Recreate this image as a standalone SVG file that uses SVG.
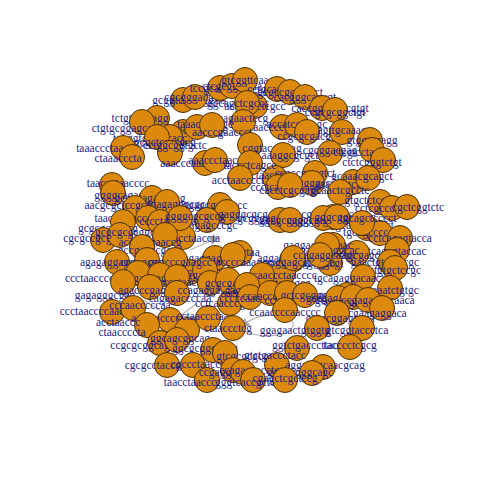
<svg xmlns="http://www.w3.org/2000/svg" width="480" height="480" viewBox="0 0 480 480">
<style>
.n circle{fill:#DC8A0E;stroke:#4A3008;stroke-width:1}
.n text{font-family:"Liberation Serif",serif;font-size:11.5px;fill:#1C1C8C;text-anchor:middle;dominant-baseline:central}
.e{fill:none;stroke:#B4B4B4;stroke-width:1.2}
</style>
<defs>
<marker id="ah" viewBox="0 0 10 10" refX="2" refY="5" markerWidth="8" markerHeight="8" orient="auto-start-reverse"><path d="M0,0 L10,5 L0,10 z" fill="#A8A8A8"/></marker>
</defs>
<rect width="480" height="480" fill="#fff"/>
<g id="edges">
<path class="e" d="M246,323 C262,310 300,314 292,328 C286,338 258,337 246,332" marker-start="url(#ah)"/>
<path class="e" d="M143,300 L186,326"/>
<path class="e" d="M196,304 L160,331"/>
<path class="e" d="M190,250 L212,240" marker-end="url(#ah)"/>
</g>
<g id="n1" class="n"><circle cx="183" cy="100" r="12.5"/><text x="183" y="100">gcggtcctgcgg</text></g>
<g id="n2" class="n"><circle cx="195" cy="97" r="12.5"/><text x="195" y="97">cgcgggacttgg</text></g>
<g id="n3" class="n"><circle cx="220" cy="88" r="12.5"/><text x="220" y="88">tccgcaaaccgc</text></g>
<g id="n4" class="n"><circle cx="232" cy="86" r="12.5"/><text x="232" y="86">ctcgcggtcgaa</text></g>
<g id="n5" class="n"><circle cx="245" cy="80" r="12.5"/><text x="245" y="80">gtcggttcaa</text></g>
<g id="n6" class="n"><circle cx="255" cy="106" r="12.5"/><text x="255" y="106">acgcagctcgcc</text></g>
<g id="n7" class="n"><circle cx="277" cy="89" r="12.5"/><text x="277" y="89">cctgcacagtag</text></g>
<g id="n8" class="n"><circle cx="290" cy="92" r="12.5"/><text x="290" y="92">gcgccgcgcgtct</text></g>
<g id="n9" class="n"><circle cx="305" cy="97" r="12.5"/><text x="305" y="97">cacgggcagcgt</text></g>
<g id="n10" class="n"><circle cx="322" cy="108" r="12.5"/><text x="330" y="108">caccgggcggcgtgt</text></g>
<g id="n11" class="n"><circle cx="335" cy="110" r="12.5"/><text x="335" y="112">ccgcgcggctgt</text></g>
<g id="n12" class="n"><circle cx="247" cy="103" r="12.5"/><text x="238" y="103">ggcagctcgccc</text></g>
<g id="n13" class="n"><circle cx="243" cy="122" r="12.5"/><text x="238" y="118">acaagaactccg</text></g>
<g id="n14" class="n"><circle cx="157" cy="118" r="12.5"/><text x="140" y="118">tctgtgctgagg</text></g>
<g id="n15" class="n"><circle cx="142" cy="122" r="12.5"/><text x="122" y="128">ctgtgcggagca</text></g>
<g id="n16" class="n"><circle cx="183" cy="132" r="12.5"/><text x="195" y="130">aaaacctaaacgc</text></g>
<g id="n17" class="n"><circle cx="197" cy="127" r="12.5"/><text x="205" y="124">taaacgcgcgc</text></g>
<g id="n18" class="n"><circle cx="212" cy="125" r="12.5"/><text x="222" y="132">aacccgaaccct</text></g>
<g id="n19" class="n"><circle cx="170" cy="137" r="12.5"/><text x="150" y="138">tgaggtgcgctcacc</text></g>
<g id="n20" class="n"><circle cx="157" cy="137" r="12.5"/><text x="165" y="142">gcgctcaccgcg</text></g>
<g id="n21" class="n"><circle cx="170" cy="153" r="12.5"/><text x="175" y="145">cctggcggtgctc</text></g>
<g id="n22" class="n"><circle cx="123" cy="148" r="12.5"/><text x="110" y="148">taaaccctaacccc</text></g>
<g id="n23" class="n"><circle cx="132" cy="157" r="12.5"/><text x="118" y="158">ctaaacccta</text></g>
<g id="n24" class="n"><circle cx="205" cy="163" r="12.5"/><text x="195" y="163">aaacccaaacccta</text></g>
<g id="n25" class="n"><circle cx="215" cy="160" r="12.5"/><text x="218" y="160">aaaccctaacca</text></g>
<g id="n26" class="n"><circle cx="250" cy="145" r="12.5"/><text x="272" y="148">cggtaccctcag</text></g>
<g id="n27" class="n"><circle cx="282" cy="127" r="12.5"/><text x="282" y="127">aaccccgaaag</text></g>
<g id="n28" class="n"><circle cx="297" cy="125" r="12.5"/><text x="297" y="124">accatcgaaagc</text></g>
<g id="n30" class="n"><circle cx="307" cy="132" r="12.5"/><text x="307" y="136">ccgcgcgacgg</text></g>
<g id="n31" class="n"><circle cx="342" cy="132" r="12.5"/><text x="345" y="130">agttgcaaagg</text></g>
<g id="n32" class="n"><circle cx="370" cy="140" r="12.5"/><text x="372" y="140">gtggctgagg</text></g>
<g id="n33" class="n"><circle cx="330" cy="153" r="12.5"/><text x="330" y="150">cgcggacgag</text></g>
<g id="n34" class="n"><circle cx="372" cy="150" r="12.5"/><text x="362" y="152">ctcgtcctagga</text></g>
<g id="n35" class="n"><circle cx="383" cy="160" r="12.5"/><text x="372" y="162">ctctcgggtctgt</text></g>
<g id="n36" class="n"><circle cx="283" cy="155" r="12.5"/><text x="290" y="155">aaaggcgcgct</text></g>
<g id="n37" class="n"><circle cx="275" cy="178" r="12.5"/><text x="265" y="175">ccctaacccc</text></g>
<g id="n38" class="n"><circle cx="315" cy="173" r="12.5"/><text x="305" y="173">ccgccggggtct</text></g>
<g id="n39" class="n"><circle cx="312" cy="183" r="12.5"/><text x="305" y="183">tccgcgggcc</text></g>
<g id="n40" class="n"><circle cx="353" cy="182" r="12.5"/><text x="345" y="184">aaaaacgcagct</text></g>
<g id="n41" class="n"><circle cx="368" cy="178" r="12.5"/><text x="362" y="176">gcaaacgcagct</text></g>
<g id="n42" class="n"><circle cx="250" cy="163" r="12.5"/><text x="250" y="165">taccctcagcc</text></g>
<g id="n43" class="n"><circle cx="240" cy="178" r="12.5"/><text x="238" y="180">acctaacccct</text></g>
<g id="n44" class="n"><circle cx="112" cy="185" r="12.5"/><text x="118" y="183">taaccctaacccc</text></g>
<g id="n45" class="n"><circle cx="340" cy="192" r="12.5"/><text x="340" y="190">gcaactcgcctc</text></g>
<g id="n46" class="n"><circle cx="380" cy="202" r="12.5"/><text x="372" y="200">gtgctctcccgt</text></g>
<g id="n47" class="n"><circle cx="392" cy="208" r="12.5"/><text x="383" y="208">cctcgccctctc</text></g>
<g id="n48" class="n"><circle cx="407" cy="207" r="12.5"/><text x="418" y="207">cgctcggtctc</text></g>
<g id="n49" class="n"><circle cx="333" cy="217" r="12.5"/><text x="330" y="214">cgggcagtgcc</text></g>
<g id="n50" class="n"><circle cx="367" cy="228" r="12.5"/><text x="362" y="225">agcactcccgcct</text></g>
<g id="n51" class="n"><circle cx="380" cy="233" r="12.5"/><text x="375" y="232">tgcagcccccctc</text></g>
<g id="n52" class="n"><circle cx="400" cy="238" r="12.5"/><text x="400" y="238">cctcagagtacca</text></g>
<g id="n53" class="n"><circle cx="397" cy="250" r="12.5"/><text x="393" y="251">cttcagagtaccac</text></g>
<g id="n54" class="n"><circle cx="357" cy="253" r="12.5"/><text x="350" y="255">aaggagcgagc</text></g>
<g id="n55" class="n"><circle cx="390" cy="262" r="12.5"/><text x="385" y="262">gaactgtgctccgc</text></g>
<g id="n56" class="n"><circle cx="395" cy="268" r="12.5"/><text x="395" y="270">ctgtgctccgc</text></g>
<g id="n57" class="n"><circle cx="363" cy="277" r="12.5"/><text x="350" y="278">tgcagaggacaaca</text></g>
<g id="n58" class="n"><circle cx="333" cy="245" r="12.5"/><text x="318" y="245">gaggagaagcaac</text></g>
<g id="n59" class="n"><circle cx="330" cy="263" r="12.5"/><text x="310" y="263">gtcagagcggcgt</text></g>
<g id="n60" class="n"><circle cx="390" cy="288" r="12.5"/><text x="385" y="290">accgaaatctgtgc</text></g>
<g id="n61" class="n"><circle cx="347" cy="295" r="12.5"/><text x="347" y="295">gccgagagaca</text></g>
<g id="n62" class="n"><circle cx="278" cy="187" r="12.5"/><text x="275" y="187">ccctcaaccc</text></g>
<g id="n63" class="n"><circle cx="290" cy="185" r="12.5"/><text x="290" y="190">cacctcgcgagc</text></g>
<g id="n64" class="n"><circle cx="280" cy="220" r="12.5"/><text x="270" y="218">gcgggagcgcgc</text></g>
<g id="n65" class="n"><circle cx="290" cy="220" r="12.5"/><text x="292" y="220">ggcgcgagggcg</text></g>
<g id="n66" class="n"><circle cx="323" cy="218" r="12.5"/><text x="318" y="220">cgggcgtgcgcc</text></g>
<g id="n67" class="n"><circle cx="337" cy="217" r="12.5"/><text x="345" y="217">gggcggctgctc</text></g>
<g id="n68" class="n"><circle cx="362" cy="223" r="12.5"/><text x="368" y="218">tgcagctcccct</text></g>
<g id="n70" class="n"><circle cx="327" cy="245" r="12.5"/><text x="322" y="250">aaggagcgaggcac</text></g>
<g id="n71" class="n"><circle cx="292" cy="260" r="12.5"/><text x="290" y="258">aggagaaggcag</text></g>
<g id="n72" class="n"><circle cx="283" cy="273" r="12.5"/><text x="290" y="283">gtcaggcg</text></g>
<g id="n73" class="n"><circle cx="240" cy="253" r="12.5"/><text x="232" y="252">agagaccctaa</text></g>
<g id="n74" class="n"><circle cx="220" cy="205" r="12.5"/><text x="215" y="205">ggagcgcgcgcc</text></g>
<g id="n75" class="n"><circle cx="227" cy="212" r="12.5"/><text x="235" y="214">cgcgagggcgcg</text></g>
<g id="n76" class="n"><circle cx="207" cy="220" r="12.5"/><text x="205" y="225">gcgagagcccgc</text></g>
<g id="n77" class="n"><circle cx="183" cy="237" r="12.5"/><text x="180" y="238">gggcagacctaaccta</text></g>
<g id="n78" class="n"><circle cx="215" cy="258" r="12.5"/><text x="215" y="258">agaggagtaggc</text></g>
<g id="n79" class="n"><circle cx="233" cy="255" r="12.5"/><text x="238" y="262">ggaccccaaagcc</text></g>
<g id="n80" class="n"><circle cx="293" cy="258" r="12.5"/><text x="300" y="262">aaggagcgaggca</text></g>
<g id="n81" class="n"><circle cx="320" cy="255" r="12.5"/><text x="325" y="255">ccagaggcaagc</text></g>
<g id="n82" class="n"><circle cx="190" cy="272" r="12.5"/><text x="190" y="272">gagggcagccct</text></g>
<g id="n83" class="n"><circle cx="205" cy="270" r="12.5"/><text x="212" y="275">ggaagaccct</text></g>
<g id="n84" class="n"><circle cx="262" cy="275" r="12.5"/><text x="282" y="275">ccaaccctaacccc</text></g>
<g id="n85" class="n"><circle cx="113" cy="193" r="12.5"/><text x="130" y="195">ggggcagagagcg</text></g>
<g id="n86" class="n"><circle cx="152" cy="198" r="12.5"/><text x="150" y="198">gcgagagagcgcg</text></g>
<g id="n87" class="n"><circle cx="167" cy="202" r="12.5"/><text x="170" y="204">ccggagagggcgc</text></g>
<g id="n88" class="n"><circle cx="135" cy="208" r="12.5"/><text x="118" y="205">aacgcgctccgcg</text></g>
<g id="n89" class="n"><circle cx="148" cy="218" r="12.5"/><text x="135" y="218">taaccctaaccctaacc</text></g>
<g id="n90" class="n"><circle cx="160" cy="222" r="12.5"/><text x="168" y="221">cccctaacccta</text></g>
<g id="n91" class="n"><circle cx="123" cy="222" r="12.5"/><text x="108" y="228">gcgcgcgcgcg</text></g>
<g id="n92" class="n"><circle cx="180" cy="218" r="12.5"/><text x="195" y="216">ggggcgcgccg</text></g>
<g id="n93" class="n"><circle cx="103" cy="240" r="12.5"/><text x="98" y="238">cgcgccgcgcccg</text></g>
<g id="n94" class="n"><circle cx="120" cy="235" r="12.5"/><text x="125" y="232">gcgcgcgcggc</text></g>
<g id="n96" class="n"><circle cx="165" cy="235" r="12.5"/><text x="150" y="242">acgcccgaaccg</text></g>
<g id="n97" class="n"><circle cx="142" cy="247" r="12.5"/><text x="150" y="250">gccgcgccgccg</text></g>
<g id="n98" class="n"><circle cx="117" cy="262" r="12.5"/><text x="115" y="262">agagaggagcgcc</text></g>
<g id="n99" class="n"><circle cx="147" cy="260" r="12.5"/><text x="152" y="262">ccgcgcgcccgc</text></g>
<g id="n100" class="n"><circle cx="175" cy="260" r="12.5"/><text x="180" y="262">gcgcccgaagcc</text></g>
<g id="n102" class="n"><circle cx="138" cy="273" r="12.5"/><text x="92" y="278">ccctaacccca</text></g>
<g id="n103" class="n"><circle cx="160" cy="275" r="12.5"/><text x="155" y="278">gcgaggagcgcc</text></g>
<g id="n104" class="n"><circle cx="177" cy="277" r="12.5"/><text x="185" y="282">cccctaaccgc</text></g>
<g id="n105" class="n"><circle cx="123" cy="282" r="12.5"/><text x="105" y="295">gagagggcgag</text></g>
<g id="n106" class="n"><circle cx="150" cy="287" r="12.5"/><text x="150" y="290">agacccgaggcc</text></g>
<g id="n107" class="n"><circle cx="112" cy="312" r="12.5"/><text x="92" y="311">ccctaaccccaac</text></g>
<g id="n108" class="n"><circle cx="133" cy="308" r="12.5"/><text x="140" y="305">cccaacccccaa</text></g>
<g id="n109" class="n"><circle cx="170" cy="320" r="12.5"/><text x="165" y="318">acctaacccctaac</text></g>
<g id="n110" class="n"><circle cx="147" cy="325" r="12.5"/><text x="118" y="322">acctaaccc</text></g>
<g id="n111" class="n"><circle cx="187" cy="330" r="12.5"/><text x="122" y="332">ctaaccccta</text></g>
<g id="n112" class="n"><circle cx="208" cy="318" r="12.5"/><text x="205" y="316">cctaaccctaac</text></g>
<g id="n113" class="n"><circle cx="233" cy="328" r="12.5"/><text x="228" y="328">ctaaccctcg</text></g>
<g id="n114" class="n"><circle cx="160" cy="343" r="12.5"/><text x="140" y="345">ccgcgcggcag</text></g>
<g id="n115" class="n"><circle cx="177" cy="340" r="12.5"/><text x="180" y="338">ggcagcggcag</text></g>
<g id="n116" class="n"><circle cx="213" cy="350" r="12.5"/><text x="205" y="348">ggcgcggcgcag</text></g>
<g id="n117" class="n"><circle cx="225" cy="353" r="12.5"/><text x="245" y="356">gtcgcgcgcgc</text></g>
<g id="n118" class="n"><circle cx="167" cy="365" r="12.5"/><text x="155" y="365">cgcgcctaccca</text></g>
<g id="n119" class="n"><circle cx="193" cy="365" r="12.5"/><text x="198" y="364">cgccctaaccc</text></g>
<g id="n120" class="n"><circle cx="207" cy="380" r="12.5"/><text x="190" y="382">taacctaaccc</text></g>
<g id="n121" class="n"><circle cx="233" cy="370" r="12.5"/><text x="228" y="372">ccgaggcccgc</text></g>
<g id="n122" class="n"><circle cx="230" cy="303" r="12.5"/><text x="225" y="303">cctcaacccgca</text></g>
<g id="n123" class="n"><circle cx="177" cy="293" r="12.5"/><text x="180" y="298">cagagaccccaa</text></g>
<g id="n124" class="n"><circle cx="210" cy="283" r="12.5"/><text x="210" y="290">ccagaggaggga</text></g>
<g id="n125" class="n"><circle cx="228" cy="280" r="12.5"/><text x="232" y="283">gcgcgagaga</text></g>
<g id="n126" class="n"><circle cx="247" cy="285" r="12.5"/><text x="250" y="290">gagaccctgc</text></g>
<g id="n127" class="n"><circle cx="250" cy="297" r="12.5"/><text x="250" y="298">cccccaacccca</text></g>
<g id="n128" class="n"><circle cx="270" cy="293" r="12.5"/><text x="275" y="296">ccaaccccaaccc</text></g>
<g id="n129" class="n"><circle cx="287" cy="293" r="12.5"/><text x="295" y="300">cctcagccgcgc</text></g>
<g id="n130" class="n"><circle cx="305" cy="295" r="12.5"/><text x="312" y="295">gctcgcggccgg</text></g>
<g id="n131" class="n"><circle cx="338" cy="298" r="12.5"/><text x="335" y="298">gccgagagaca</text></g>
<g id="n132" class="n"><circle cx="353" cy="297" r="12.5"/><text x="355" y="302">cgtgcgaagaga</text></g>
<g id="n133" class="n"><circle cx="368" cy="300" r="12.5"/><text x="378" y="300">ccgagagaacaaca</text></g>
<g id="n134" class="n"><circle cx="382" cy="308" r="12.5"/><text x="370" y="313">gtgcgaagaggaca</text></g>
<g id="n135" class="n"><circle cx="285" cy="310" r="12.5"/><text x="285" y="312">ccaaccccaacccc</text></g>
<g id="n136" class="n"><circle cx="337" cy="313" r="12.5"/><text x="340" y="318">ggtgcggaggaca</text></g>
<g id="n137" class="n"><circle cx="317" cy="328" r="12.5"/><text x="295" y="330">ggagaactgtggtg</text></g>
<g id="n138" class="n"><circle cx="362" cy="328" r="12.5"/><text x="357" y="330">gtcggtaccctca</text></g>
<g id="n140" class="n"><circle cx="297" cy="348" r="12.5"/><text x="305" y="345">ggtctgacccttac</text></g>
<g id="n141" class="n"><circle cx="350" cy="347" r="12.5"/><text x="350" y="345">tacccctcgcg</text></g>
<g id="n142" class="n"><circle cx="277" cy="365" r="12.5"/><text x="275" y="355">gtctgaccctacc</text></g>
<g id="n143" class="n"><circle cx="323" cy="367" r="12.5"/><text x="325" y="365">aggaacgcaacgcag</text></g>
<g id="n144" class="n"><circle cx="312" cy="373" r="12.5"/><text x="300" y="372">ggagggggcagc</text></g>
<g id="n145" class="n"><circle cx="243" cy="372" r="12.5"/><text x="255" y="370">ccagaacacctcgg</text></g>
<g id="n146" class="n"><circle cx="253" cy="380" r="12.5"/><text x="245" y="382">gggtcaccgctc</text></g>
<g id="n147" class="n"><circle cx="285" cy="380" r="12.5"/><text x="285" y="378">cgagctcgctccg</text></g>
</svg>
